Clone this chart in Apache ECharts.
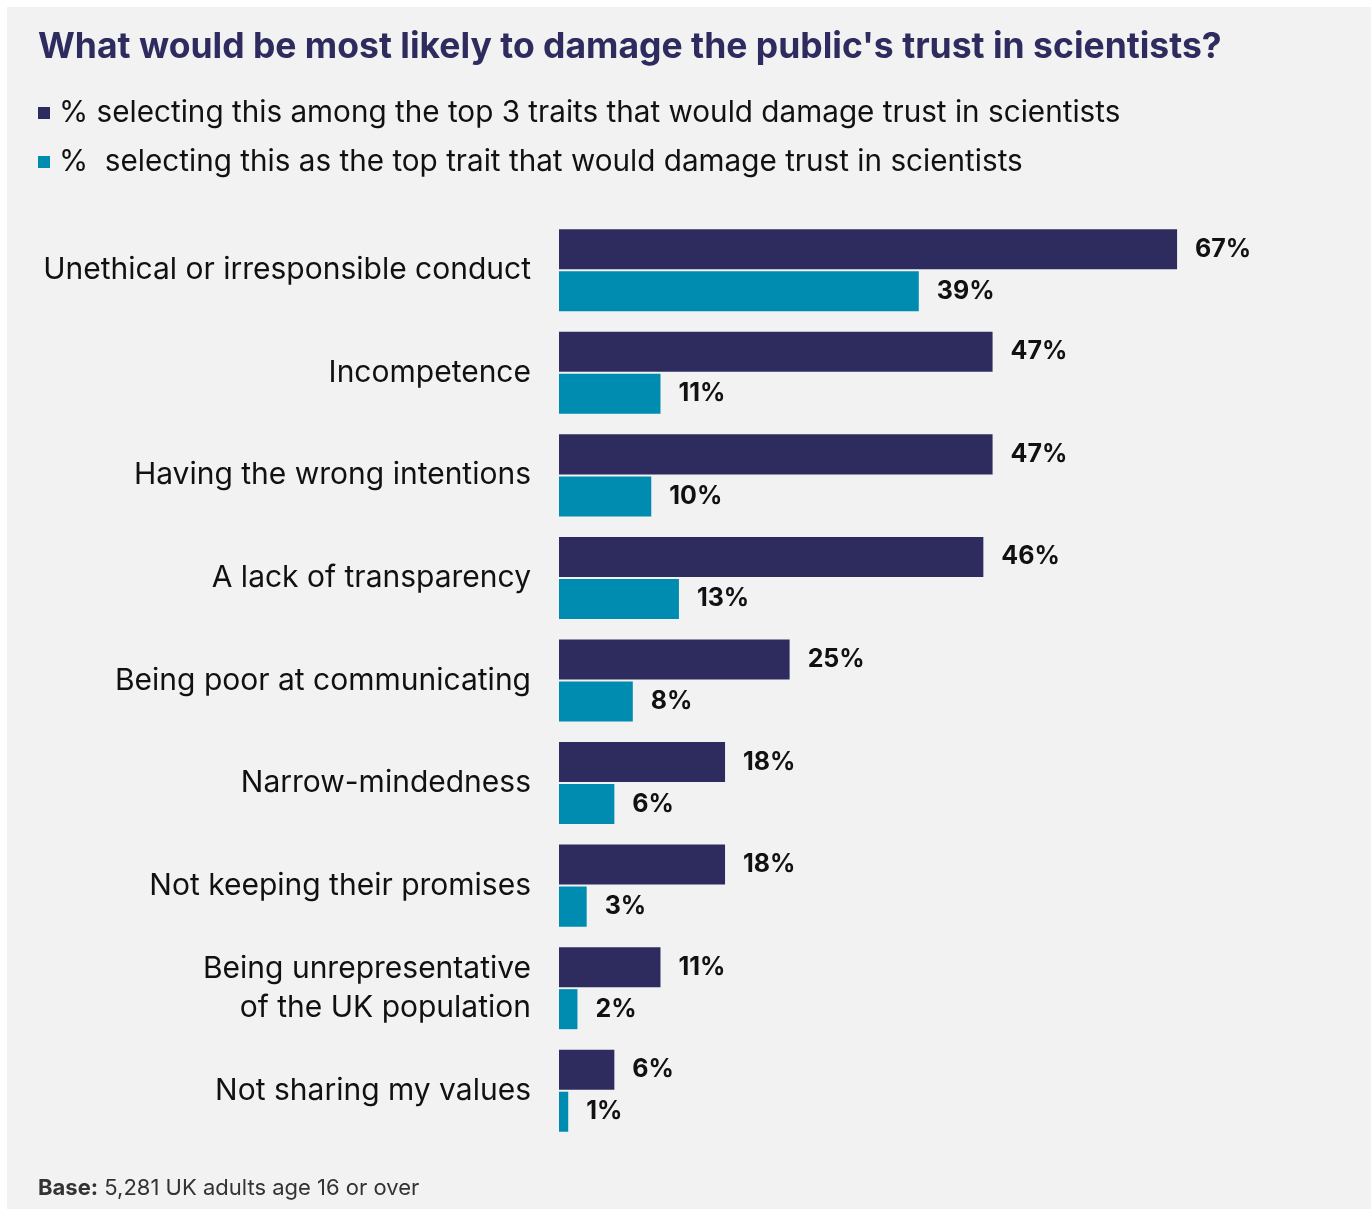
<!DOCTYPE html>
<html>
<head>
<meta charset="utf-8">
<script src="https://cdn.jsdelivr.net/npm/echarts@6/dist/echarts.min.js"></script>
<style>
  html, body { margin: 0; padding: 0; background: #ffffff; }
  #chart { position: absolute; left: 7px; top: 7px; width: 1364px; height: 1202px; }
</style>
</head>
<body>
<div id="chart"></div>
<script>
// Traits that would damage trust in scientists (top to bottom)
const categories = [
  'Unethical or irresponsible conduct',
  'Incompetence',
  'Having the wrong intentions',
  'A lack of transparency',
  'Being poor at communicating',
  'Narrow-mindedness',
  'Not keeping their promises',
  'Being unrepresentative\nof the UK population',
  'Not sharing my values'
];
// % selecting the trait among their top 3
const top3Values = [67, 47, 47, 46, 25, 18, 18, 11, 6];
// % selecting the trait as the single top trait
const topValues = [39, 11, 10, 13, 8, 6, 3, 2, 1];

const seriesNames = [
  '% selecting this among the top 3 traits that would damage trust in scientists',
  '%  selecting this as the top trait that would damage trust in scientists'
];

const FONT = 'Inter, "Noto Sans", sans-serif';
const NAVY = '#2e2c5e';
const TEAL = '#008bb0';

const chart = echarts.init(document.getElementById('chart'), null, { renderer: 'canvas' });

const valueLabel = {
  show: true,
  position: 'right',
  distance: 18,
  formatter: '{c}%',
  fontFamily: FONT,
  fontWeight: 'bold',
  fontSize: 25,
  color: '#111111',
  padding: [7, 0, 0, 0]
};

chart.setOption({
  backgroundColor: '#f2f2f2',
  animation: false,
  title: {
    text: "What would be most likely to damage the public's trust in scientists?",
    left: 26,
    top: 17,
    textStyle: { fontFamily: FONT, fontWeight: 'bold', fontSize: 35.5, color: NAVY }
  },
  legend: {
    orient: 'vertical',
    left: 26,
    top: 86,
    icon: 'rect',
    itemWidth: 12,
    itemHeight: 12,
    itemGap: 19,
    selectedMode: false,
    textStyle: { fontFamily: FONT, fontSize: 29.7, lineHeight: 30, color: '#111111', padding: [0, 0, 0, 4] },
    data: seriesNames
  },
  graphic: [{
    type: 'text',
    left: 31,
    top: 1170,
    style: {
      text: '{b|Base:} 5,281 UK adults age 16 or over',
      rich: {
        b: { fontFamily: FONT, fontWeight: 'bold', fontSize: 22, fill: '#333333' }
      },
      fontFamily: FONT,
      fontSize: 22,
      fill: '#333333'
    }
  }],
  grid: { left: 552, top: 212, width: 738, height: 923, containLabel: false },
  xAxis: {
    type: 'value',
    min: 0,
    max: 80,
    show: false
  },
  yAxis: {
    type: 'category',
    inverse: true,
    data: categories,
    axisLine: { show: false },
    axisTick: { show: false },
    axisLabel: {
      margin: 28,
      fontFamily: FONT,
      fontSize: 30,
      color: '#111111',
      lineHeight: 39,
      align: 'right',
      padding: [10, 0, 0, 0]
    }
  },
  series: [
    {
      name: seriesNames[0],
      type: 'bar',
      data: top3Values,
      barGap: '5%',
      barCategoryGap: '20%',
      itemStyle: { color: NAVY },
      label: valueLabel
    },
    {
      name: seriesNames[1],
      type: 'bar',
      data: topValues,
      itemStyle: { color: TEAL },
      label: valueLabel
    }
  ]
});
</script>
</body>
</html>
